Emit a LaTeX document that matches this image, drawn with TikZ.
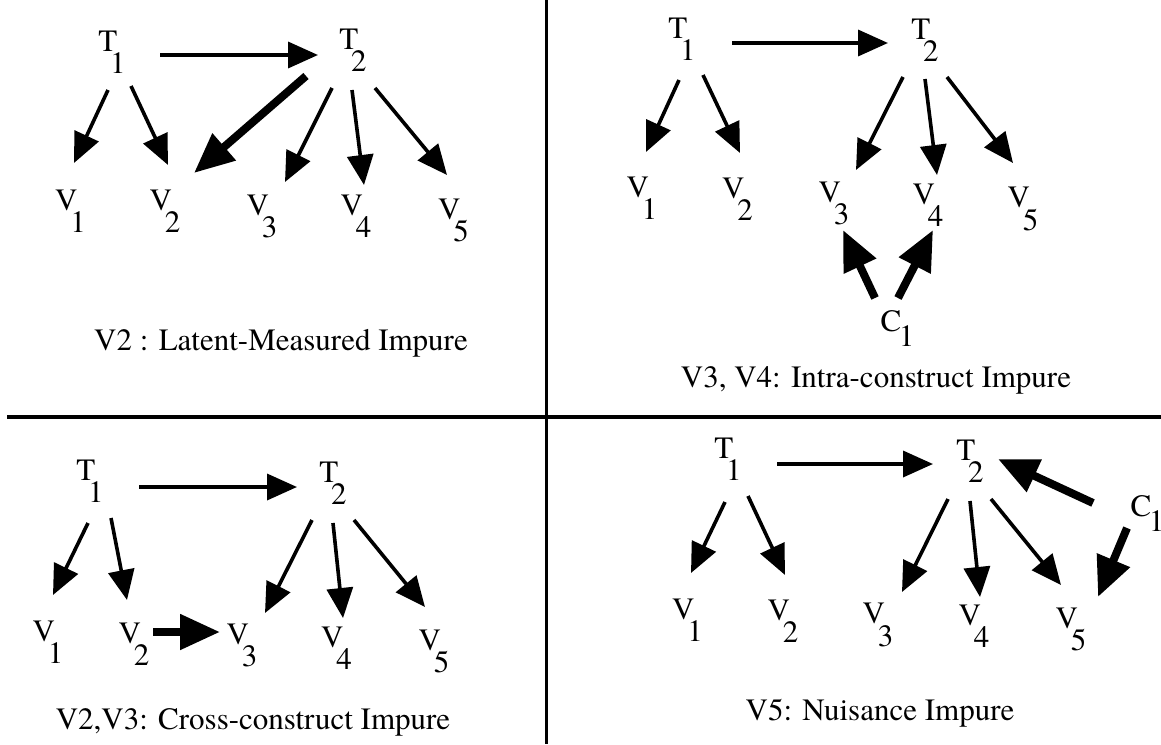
\documentclass[tikz,border=0pt]{standalone}
\usepackage{fontspec}
\setmainfont{texgyretermes}[Extension=.otf, UprightFont=*-regular, BoldFont=*-bold, ItalicFont=*-italic, BoldItalicFont=*-bolditalic]
\usepackage{tikz}
\usetikzlibrary{arrows.meta}

% letter with a low, full size index
\newcommand{\lsub}[2]{#1\kern-0.23em\raisebox{-0.72em}{#2}}
\newcommand{\csub}[1]{C\kern-0.08em\raisebox{-0.5em}{#1}}

\begin{document}
\begin{tikzpicture}[x=0.5pt,y=-0.5pt]
\tikzstyle{var} = [inner sep=0pt, font=\fontsize{15.5}{18}\selectfont]
\tikzstyle{captxt} = [inner sep=0pt, font=\fontsize{15.5}{18}\selectfont]
\tikzstyle{arr} = [-{Triangle[length=15pt,width=13pt]}, line width=1.8pt]
\tikzstyle{fat} = [-{Triangle[length=20pt,width=17pt]}, line width=4pt]
\useasboundingbox (0,0) rectangle (1161,744);

% panel frame
\draw[line width=1.5pt] (546,0) -- (546,744);
\draw[line width=2pt] (7,417) -- (1161,417);

% top left
\node[var] (aT1) at (112,52) {\lsub{T}{1}};
\node[var] (aT2) at (353,50.5) {\lsub{T}{2}};
\node[var] (aV1) at (70.5,211) {\lsub{V}{1}};
\node[var] (aV2) at (165,211) {\lsub{V}{2}};
\node[var] (aV3) at (262,216.5) {\lsub{V}{3}};
\node[var] (aV4) at (356,216.5) {\lsub{V}{4}};
\node[var] (aV5) at (453.5,220.5) {\lsub{V}{5}};
\node[captxt] (acap) at (281,343) {V2 : Latent-Measured Impure};
\draw[arr] ([shift={(48,3)}]aT1.center) -- ([shift={(-35,4.5)}]aT2.center);
\draw[arr] ([shift={(-4,38)}]aT1.center) -- ([shift={(3.5,-48)}]aV1.center);
\draw[arr] ([shift={(19,34)}]aT1.center) -- ([shift={(3,-46)}]aV2.center);
\draw[fat] ([shift={(-47,25.5)}]aT2.center) -- ([shift={(29,-38)}]aV2.center);
\draw[arr] ([shift={(-21,37.5)}]aT2.center) -- ([shift={(23,-34.5)}]aV3.center);
\draw[arr] ([shift={(-1,39.5)}]aT2.center) -- ([shift={(8,-31.5)}]aV4.center);
\draw[arr] ([shift={(22,37.5)}]aT2.center) -- ([shift={(-6.5,-45.5)}]aV5.center);

% top right
\node[var] (bT1) at (682,39) {\lsub{T}{1}};
\node[var] (bT2) at (925,40.5) {\lsub{T}{2}};
\node[var] (bV1) at (642,198.5) {\lsub{V}{1}};
\node[var] (bV2) at (737.5,199.5) {\lsub{V}{2}};
\node[var] (bV3) at (834,203.5) {\lsub{V}{3}};
\node[var] (bV4) at (928,205) {\lsub{V}{4}};
\node[var] (bV5) at (1023,209) {\lsub{V}{5}};
\node[var] (bC1) at (897.5,328.5) {\csub{1}};
\node[captxt] (bcap) at (876,380) {V3, V4: Intra-construct Impure};
\draw[arr] ([shift={(50,4)}]bT1.center) -- ([shift={(-37,2.5)}]bT2.center);
\draw[arr] ([shift={(-3,41)}]bT1.center) -- ([shift={(4,-46.5)}]bV1.center);
\draw[arr] ([shift={(21,36)}]bT1.center) -- ([shift={(2.5,-46.5)}]bV2.center);
\draw[arr] ([shift={(-22,36.5)}]bT2.center) -- ([shift={(22,-33.5)}]bV3.center);
\draw[arr] ([shift={(0,38.5)}]bT2.center) -- ([shift={(9,-30)}]bV4.center);
\draw[arr] ([shift={(22,36.5)}]bT2.center) -- ([shift={(-10,-46)}]bV5.center);
\draw[fat] ([shift={(-22.5,-30.5)}]bC1.center) -- ([shift={(9,26.5)}]bV3.center);
\draw[fat] ([shift={(0.5,-30.5)}]bC1.center) -- ([shift={(5,25)}]bV4.center);

% bottom left
\node[var] (cT1) at (90,481.5) {\lsub{T}{1}};
\node[var] (cT2) at (333,483.5) {\lsub{T}{2}};
\node[var] (cV1) at (48,642.5) {\lsub{V}{1}};
\node[var] (cV2) at (134,644.5) {\lsub{V}{2}};
\node[var] (cV3) at (242,645.5) {\lsub{V}{3}};
\node[var] (cV4) at (336.5,648.5) {\lsub{V}{4}};
\node[var] (cV5) at (434,651.5) {\lsub{V}{5}};
\node[captxt] (ccap) at (253,722) {V2,V3: Cross-construct Impure};
\draw[arr] ([shift={(49,5.5)}]cT1.center) -- ([shift={(-36,3.5)}]cT2.center);
\draw[arr] ([shift={(-2,41.5)}]cT1.center) -- ([shift={(5,-47.5)}]cV1.center);
\draw[arr] ([shift={(21,36.5)}]cT1.center) -- ([shift={(-7,-44.5)}]cV2.center);
\draw[arr] ([shift={(-21,36.5)}]cT2.center) -- ([shift={(23,-32.5)}]cV3.center);
\draw[arr] ([shift={(0,39.5)}]cT2.center) -- ([shift={(6.5,-30.5)}]cV4.center);
\draw[arr] ([shift={(21,36.5)}]cT2.center) -- ([shift={(-9,-44.5)}]cV5.center);
\draw[fat] ([shift={(19,-12.5)}]cV2.center) -- ([shift={(-22,-13.5)}]cV3.center);

% bottom right
\node[var] (dT1) at (728,459) {\lsub{T}{1}};
\node[var] (dT2) at (970,461.5) {\lsub{T}{2}};
\node[var] (dV1) at (687.5,620) {\lsub{V}{1}};
\node[var] (dV2) at (783,621.5) {\lsub{V}{2}};
\node[var] (dV3) at (878,625) {\lsub{V}{3}};
\node[var] (dV4) at (974,626.5) {\lsub{V}{4}};
\node[var] (dV5) at (1071,629.5) {\lsub{V}{5}};
\node[var] (dC1) at (1147.5,513.5) {\csub{1}};
\node[captxt] (dcap) at (880,713) {V5: Nuisance Impure};
\draw[arr] ([shift={(49,5)}]dT1.center) -- ([shift={(-37,2.5)}]dT2.center);
\draw[arr] ([shift={(-3,43)}]dT1.center) -- ([shift={(3.5,-47)}]dV1.center);
\draw[arr] ([shift={(20,37)}]dT1.center) -- ([shift={(2,-46.5)}]dV2.center);
\draw[arr] ([shift={(-22,37.5)}]dT2.center) -- ([shift={(24,-33)}]dV3.center);
\draw[arr] ([shift={(0,39.5)}]dT2.center) -- ([shift={(6,-29.5)}]dV4.center);
\draw[arr] ([shift={(21,37.5)}]dT2.center) -- ([shift={(-10,-44.5)}]dV5.center);
\draw[fat] ([shift={(-54.5,-10.5)}]dC1.center) -- ([shift={(28,-2.5)}]dT2.center);
\draw[fat] ([shift={(-20.5,14.5)}]dC1.center) -- ([shift={(27,-32.5)}]dV5.center);
\end{tikzpicture}
\end{document}
